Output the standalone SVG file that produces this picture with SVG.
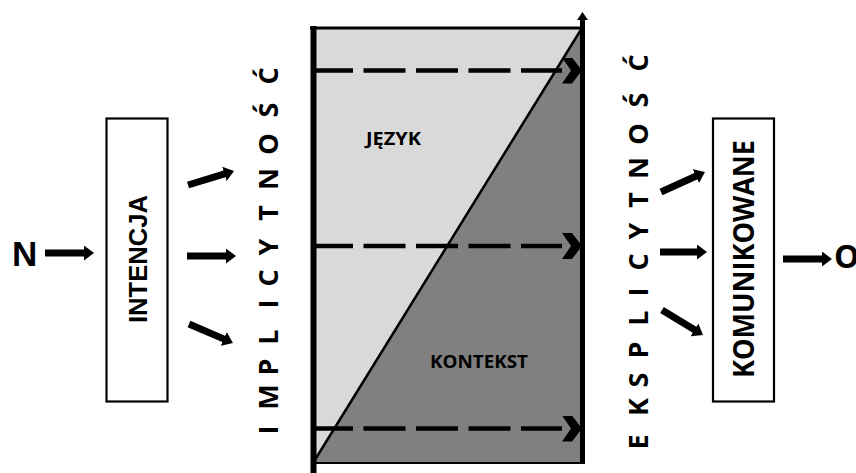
<svg xmlns="http://www.w3.org/2000/svg" width="856" height="473" viewBox="0 0 856 473">
  <style>
    .box { fill: #ffffff; stroke: #000000; stroke-width: 2.2; }
    .block { stroke: #000000; stroke-width: 7; fill: none; }
    .dash { stroke: #000000; stroke-width: 4.5; stroke-dasharray: 42 10.5; fill: none; }
    .sans { font-family: "Liberation Sans", Arial, sans-serif; font-weight: bold; fill: #000000; }
    .human { font-family: "Open Sans", "Liberation Sans", sans-serif; font-weight: bold; fill: #000000; }
  </style>
  <defs>
    <marker id="head" viewBox="0 0 10 15" markerUnits="userSpaceOnUse" markerWidth="10" markerHeight="15" refX="1" refY="7.5" orient="auto">
      <path d="M0,0 L10,7.5 L0,15 Z" fill="#000000"/>
    </marker>
    <marker id="chevron" viewBox="0 0 20 26" markerUnits="userSpaceOnUse" markerWidth="20" markerHeight="26" refX="0" refY="13" orient="auto">
      <path d="M0,0 L10,0 L20,13 L10,26 L0,26 L9,13 Z" fill="#000000"/>
    </marker>
    <marker id="axis" viewBox="0 0 11 8" markerUnits="userSpaceOnUse" markerWidth="11" markerHeight="8" refX="5.5" refY="7" orient="0">
      <path d="M0,8 L5.5,0 L11,8 Z" fill="#000000"/>
    </marker>
  </defs>

  <!-- central panel: language vs. context -->
  <g id="panel">
    <polygon points="313,28 582,28 313,463" fill="#d9d9d9"/>
    <polygon points="582,28 582,463 313,463" fill="#808080"/>
    <line x1="310" y1="28" x2="582" y2="28" stroke="#000" stroke-width="3"/>
    <line x1="313" y1="463" x2="582" y2="463" stroke="#000" stroke-width="2"/>
    <line x1="313" y1="463" x2="582" y2="28" stroke="#000" stroke-width="2.5"/>
    <line x1="313.5" y1="26" x2="313.5" y2="473" stroke="#000" stroke-width="6"/>
    <line x1="582.5" y1="464" x2="582.5" y2="19" stroke="#000" stroke-width="5" marker-end="url(#axis)"/>
    <text class="human" x="366" y="145" font-size="18" textLength="55" lengthAdjust="spacingAndGlyphs">JĘZYK</text>
    <text class="human" x="430" y="368" font-size="18.5" textLength="98" lengthAdjust="spacingAndGlyphs">KONTEKST</text>
  </g>

  <g id="intencja">
    <rect class="box" x="106.5" y="118.5" width="61" height="283"/>
    <text class="sans" transform="translate(147,259) rotate(-90)" text-anchor="middle" font-size="26" textLength="128" lengthAdjust="spacingAndGlyphs">INTENCJA</text>
  </g>

  <g id="komunikowane">
    <rect class="box" x="713" y="118.5" width="61" height="283"/>
    <text class="human" transform="translate(754,259) rotate(-90)" text-anchor="middle" font-size="28" textLength="238" lengthAdjust="spacingAndGlyphs">KOMUNIKOWANE</text>
  </g>

  <g id="nadawca">
    <text class="sans" x="12" y="266" font-size="35">N</text>
  </g>

  <g id="odbiorca">
    <text class="human" x="834" y="268" font-size="32">O</text>
  </g>

  <g id="implicytnosc">
    <text class="human" transform="rotate(-90)" y="278" font-size="27" text-anchor="middle"
          x="-430 -397 -367 -337 -304 -278 -247 -213 -179 -144 -110 -76">IMPLICYTNOŚĆ</text>
  </g>

  <g id="eksplicytnosc">
    <text class="human" transform="rotate(-90)" y="648" font-size="27" text-anchor="middle"
          x="-442 -407 -380 -350 -318 -292 -262 -231 -200 -168 -134 -100 -63">EKSPLICYTNOŚĆ</text>
  </g>

  <!-- connectors -->
  <g id="connectors">
    <line class="block" x1="45" y1="253" x2="85" y2="253" marker-end="url(#head)"/>
    <line class="block" x1="188" y1="185" x2="225.4" y2="173.6" marker-end="url(#head)"/>
    <line class="block" x1="187" y1="256" x2="227" y2="256" marker-end="url(#head)"/>
    <line class="block" x1="189" y1="324" x2="224.7" y2="339.4" marker-end="url(#head)"/>
    <line class="block" x1="661" y1="192" x2="696.8" y2="175.7" marker-end="url(#head)"/>
    <line class="block" x1="660" y1="252" x2="698" y2="252" marker-end="url(#head)"/>
    <line class="block" x1="662" y1="310" x2="695.3" y2="330.3" marker-end="url(#head)"/>
    <line class="block" x1="783" y1="259" x2="823" y2="259" marker-end="url(#head)"/>
    <line class="dash" x1="311" y1="70.5" x2="562" y2="70.5" marker-end="url(#chevron)"/>
    <line class="dash" x1="311" y1="246" x2="562" y2="246" marker-end="url(#chevron)"/>
    <line class="dash" x1="311" y1="428.5" x2="562" y2="428.5" marker-end="url(#chevron)"/>
  </g>
</svg>
